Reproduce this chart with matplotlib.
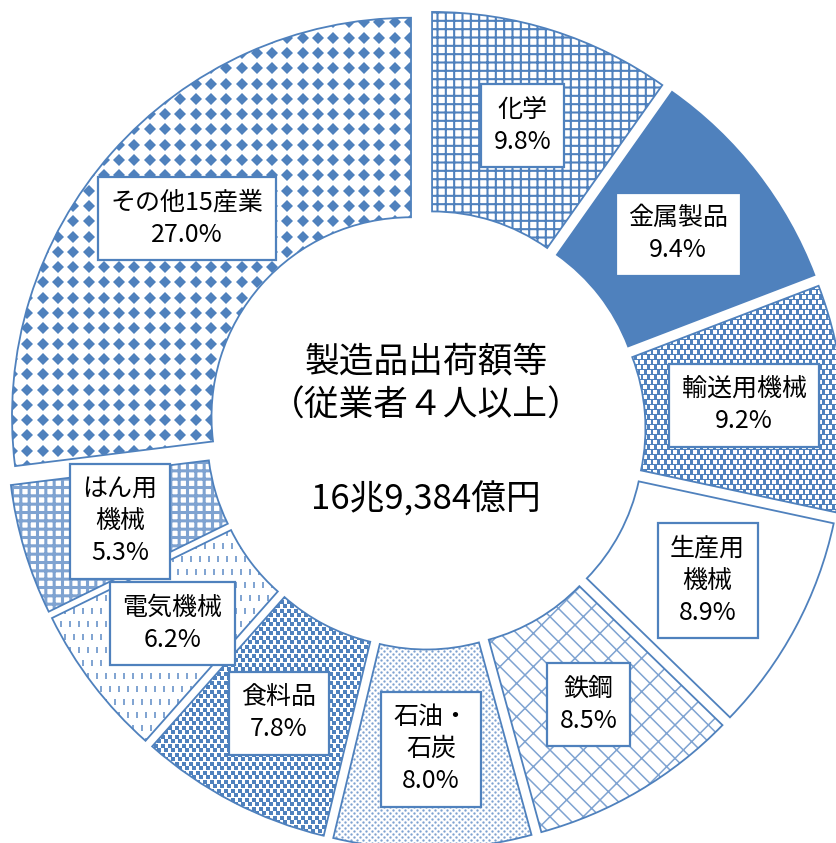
import matplotlib
matplotlib.use("Agg")
import matplotlib.pyplot as plt
import numpy as np
from matplotlib.patches import Wedge

plt.rcParams['font.family'] = ['Noto Sans CJK JP', 'DejaVu Sans']

categories = ["化学", "金属製品", "輸送用機械", "生産用\n機械", "鉄鋼", "石油・\n石炭",
              "食料品", "電気機械", "はん用\n機械", "その他15産業"]
values = [9.8, 9.4, 9.2, 8.9, 8.5, 8.0, 7.8, 6.2, 5.3, 27.0]
pct_labels = ["9.8%", "9.4%", "9.2%", "8.9%", "8.5%", "8.0%", "7.8%", "6.2%", "5.3%", "27.0%"]
center_title = "製造品出荷額等\n（従業者４人以上）"
center_total = "16兆9,384億円"

BLUE = "#4F81BD"
LBLUE = "#7FA3D1"

W, H = 837, 843
fig = plt.figure(figsize=(W / 100, H / 100), dpi=100)
ax = fig.add_axes([0, 0, 1, 1])

cx, cy = 426, H - 430
R = 399
ring = 0.5
gap = 20

wedges, _ = ax.pie(values, startangle=90, counterclock=False, radius=R,
                   center=(cx, cy), explode=[gap] * len(values),
                   wedgeprops=dict(width=R * ring, edgecolor='none', linewidth=0),
                   frame=True)
ax.set_xlim(0, W)
ax.set_ylim(0, H)
ax.set_aspect('equal')
ax.axis('off')


def hatch_overlay(w, hatch, color, lw):
    plt.rcParams['hatch.linewidth'] = lw
    ov = Wedge(w.center, w.r, w.theta1, w.theta2, width=w.width,
               facecolor='none', edgecolor=color, linewidth=0, hatch=hatch, zorder=2)
    if hasattr(ov, 'set_hatch_linewidth'):
        ov.set_hatch_linewidth(lw)
    ax.add_patch(ov)


def texture(w, dx, dy, offset, marker, ms, color, mew=0.0):
    ext = w.get_path().get_extents()
    xs = np.arange(ext.x0 - dx, ext.x1 + dx, dx)
    ys = np.arange(ext.y0 - dy, ext.y1 + dy, dy)
    X, Y = np.meshgrid(xs, ys)
    X = X + (np.arange(len(ys))[:, None] % 2) * offset
    ln, = ax.plot(X.ravel(), Y.ravel(), ls='none', marker=marker, ms=ms,
                  color=color, mec=color, mew=mew, zorder=2)
    ln.set_clip_path(w)


fills = ["white", BLUE, BLUE, "white", "white", "white", "white", "white", "white", "white"]
for w, fc in zip(wedges, fills):
    w.set_facecolor(fc)
    w.set_zorder(1)

# 化学: grid
hatch_overlay(wedges[0], "++", BLUE, 1.5)
# 輸送用機械: white dashes on blue
texture(wedges[2], 6.6, 5.0, 3.3, '_', 3.0, 'white', mew=1.6)
# 鉄鋼: brick-like diagonal
hatch_overlay(wedges[4], "\\\\/", LBLUE, 1.1)
# 石油・石炭: small dots
texture(wedges[5], 6.0, 3.0, 3.0, 'o', 1.7, LBLUE)
# 食料品: squares
texture(wedges[6], 7.0, 4.5, 3.5, 's', 2.2, BLUE)
# 電気機械: vertical dashes
texture(wedges[7], 9.0, 13.0, 4.5, '|', 5.0, LBLUE, mew=1.4)
# はん用機械: plaid
hatch_overlay(wedges[8], "++", LBLUE, 2.2)
# その他: diamonds
texture(wedges[9], 15.3, 15.3, 0.0, 'D', 6.6, BLUE)

for w in wedges:
    ax.add_patch(Wedge(w.center, w.r, w.theta1, w.theta2, width=w.width,
                       facecolor='none', edgecolor=BLUE, linewidth=1.3, zorder=3))

r_label = R * (1 - ring / 2)
for w, cat, pct in zip(wedges, categories, pct_labels):
    ang = np.deg2rad((w.theta1 + w.theta2) / 2)
    x = w.center[0] + r_label * np.cos(ang)
    y = w.center[1] + r_label * np.sin(ang)
    ax.text(x, y, cat + "\n" + pct, ha='center', va='center', fontsize=18,
            linespacing=1.3, zorder=5,
            bbox=dict(boxstyle='square,pad=0.5', facecolor='white', edgecolor=BLUE, linewidth=1.6))

ax.text(cx, H - 384, center_title, ha='center', va='center', fontsize=25, linespacing=1.35)
ax.text(cx, H - 500, center_total, ha='center', va='center', fontsize=25)

fig.savefig("out.png", dpi=100)
